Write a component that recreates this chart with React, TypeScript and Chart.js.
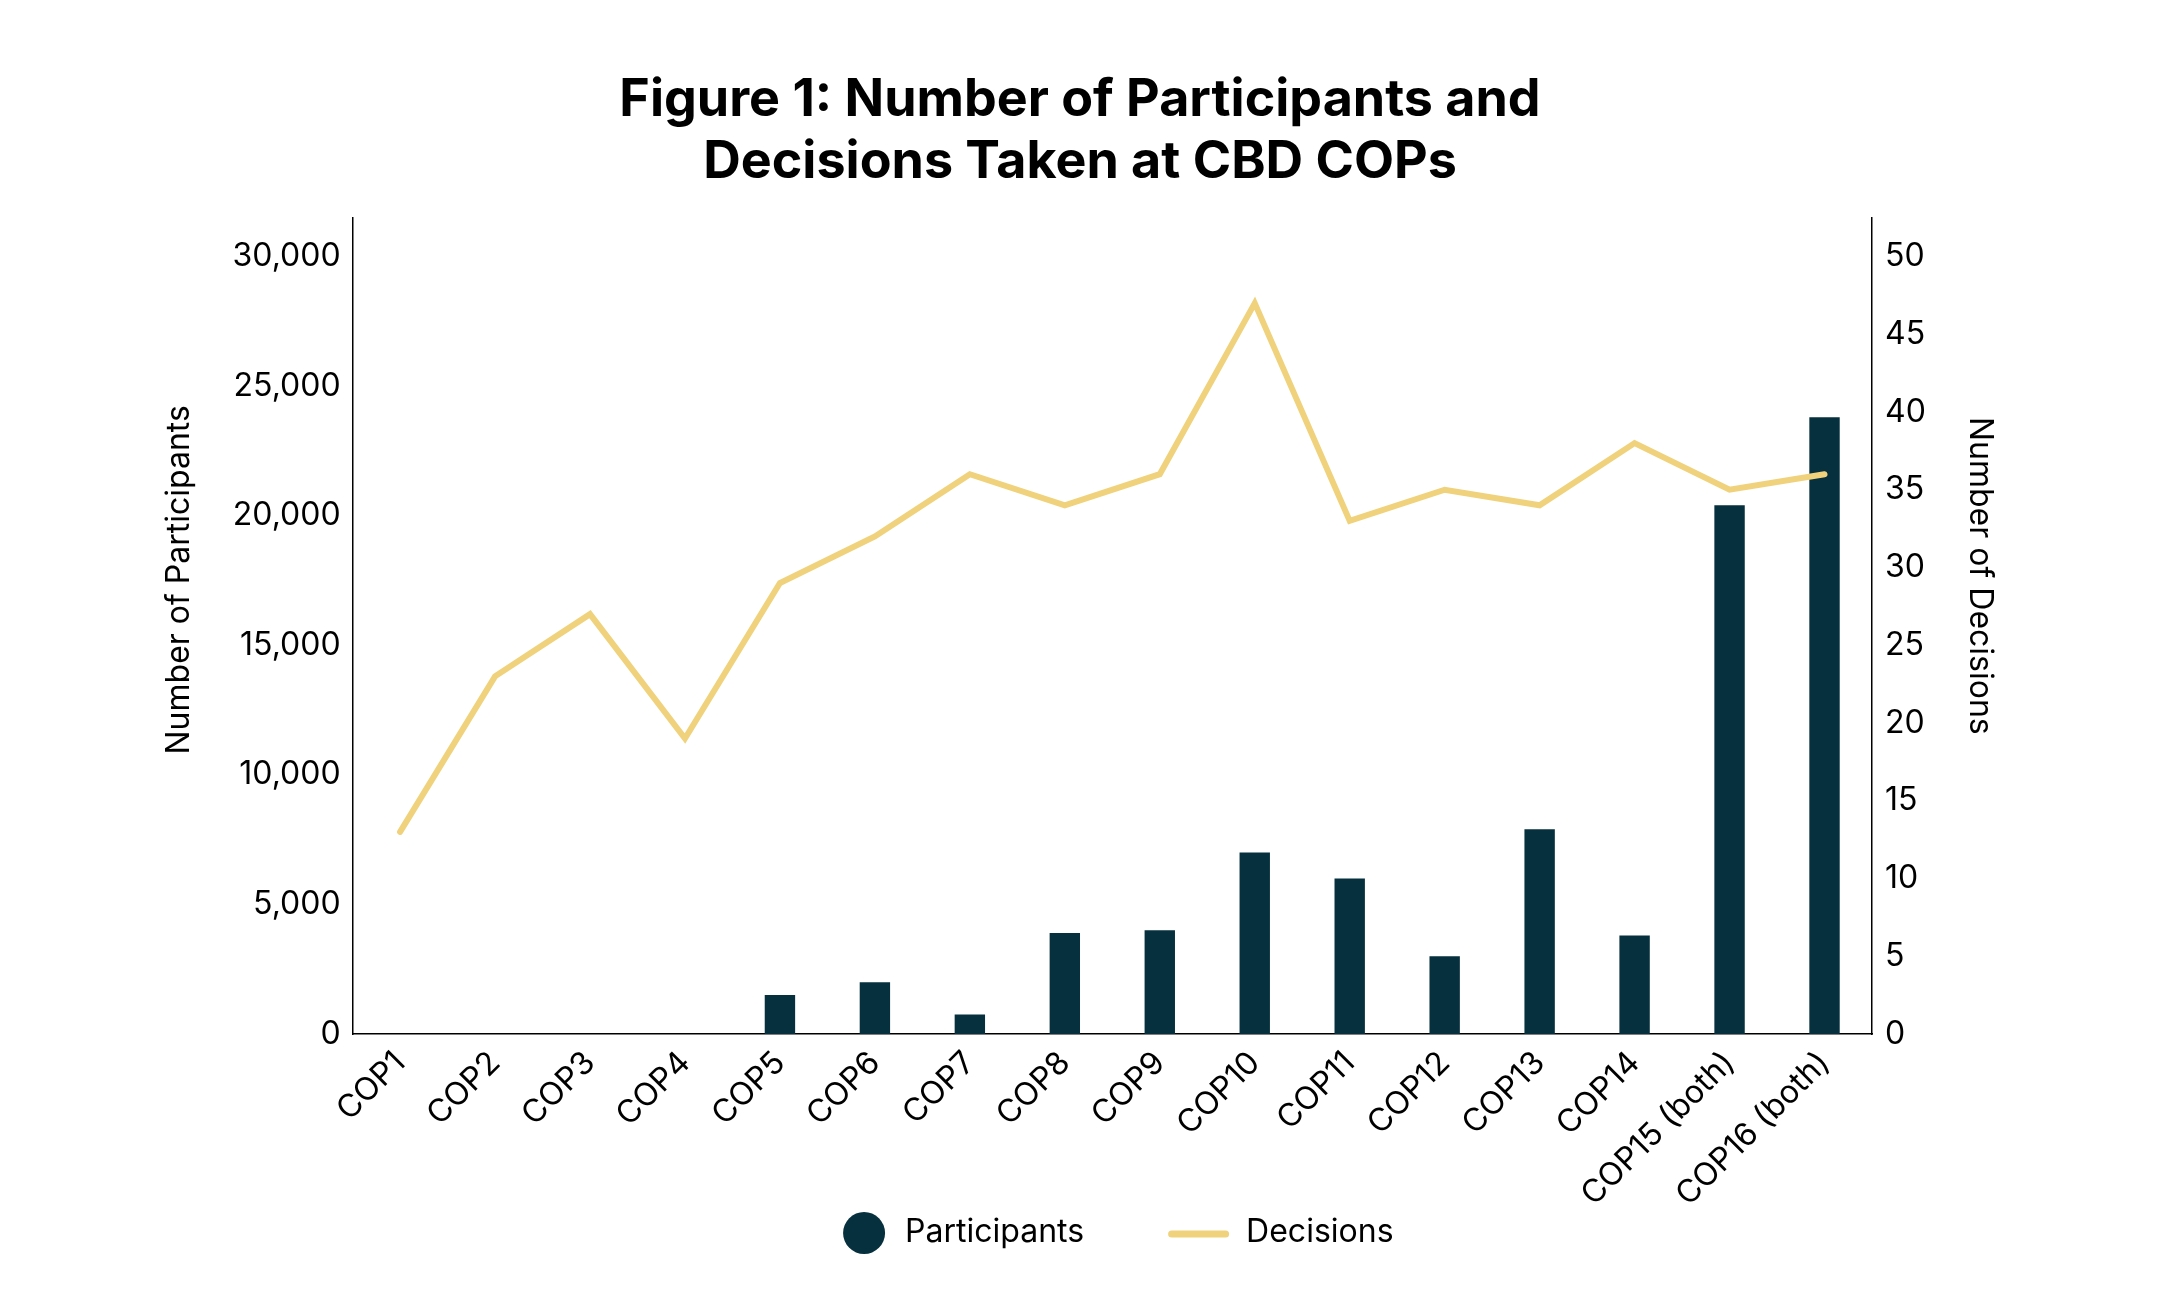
import { useEffect, useRef } from "react"
import { Chart, registerables } from "chart.js"

Chart.register(...registerables)

const copLabels = [
  "COP1", "COP2", "COP3", "COP4", "COP5", "COP6", "COP7", "COP8",
  "COP9", "COP10", "COP11", "COP12", "COP13", "COP14", "COP15 (both)", "COP16 (both)",
]
const participants = [null, null, null, null, 1500, 2000, 750, 3900, 4000, 7000, 6000, 3000, 7900, 3800, 20400, 23800]
const decisions = [13, 23, 27, 19, 29, 32, 36, 34, 36, 47, 33, 35, 34, 38, 35, 36]

const participantTicks = [0, 5000, 10000, 15000, 20000, 25000, 30000]
const decisionTicks = [0, 5, 10, 15, 20, 25, 30, 35, 40, 45, 50]

const titleLines = ["Figure 1: Number of Participants and", "Decisions Taken at CBD COPs"]
const leftAxisTitle = "Number of Participants"
const rightAxisTitle = "Number of Decisions"

const BAR_COLOR = "#06303d"
const LINE_COLOR = "#f0d27d"
const FONT = "Inter"

// axis titles sit a bit above the middle of the plot in the original
const axisTitles = {
  id: "axisTitles",
  afterDraw(chart: Chart) {
    const { ctx, chartArea } = chart
    const midY = (chartArea.top + chartArea.bottom) / 2
    ctx.save()
    ctx.font = `32px ${FONT}`
    ctx.fillStyle = "#000"
    ctx.textAlign = "center"
    ctx.textBaseline = "middle"

    ctx.save()
    ctx.translate(chartArea.left - 173, midY - 46)
    ctx.rotate(-Math.PI / 2)
    ctx.fillText(leftAxisTitle, 0, 0)
    ctx.restore()

    ctx.save()
    ctx.translate(chartArea.right + 108, midY - 50)
    ctx.rotate(Math.PI / 2)
    ctx.fillText(rightAxisTitle, 0, 0)
    ctx.restore()

    ctx.restore()
  },
}

// legend centred under the plot area: a dot for the bars, a stroke for the line
const bottomLegend = {
  id: "bottomLegend",
  afterDraw(chart: Chart) {
    const { ctx, chartArea } = chart
    const [lineSet, barSet] = chart.data.datasets
    ctx.save()
    ctx.font = `32px ${FONT}`
    const wBar = ctx.measureText(String(barSet.label)).width
    const wLine = ctx.measureText(String(lineSet.label)).width

    const dotR = 21
    const dotGap = 20
    const itemGap = 84
    const strokeLen = 61
    const strokeGap = 17
    const total = dotR * 2 + dotGap + wBar + itemGap + strokeLen + strokeGap + wLine
    const cx = (chartArea.left + chartArea.right) / 2 + 6
    let x = cx - total / 2
    const cy = chartArea.bottom + 199
    const baseY = chartArea.bottom + 208

    ctx.fillStyle = BAR_COLOR
    ctx.beginPath()
    ctx.arc(x + dotR, cy, dotR, 0, Math.PI * 2)
    ctx.fill()
    x += dotR * 2 + dotGap
    ctx.fillStyle = "#000"
    ctx.textBaseline = "alphabetic"
    ctx.fillText(String(barSet.label), x, baseY)
    x += wBar + itemGap

    ctx.strokeStyle = LINE_COLOR
    ctx.lineWidth = 7
    ctx.lineCap = "round"
    ctx.beginPath()
    ctx.moveTo(x + 3.5, cy + 1)
    ctx.lineTo(x + strokeLen - 3.5, cy + 1)
    ctx.stroke()
    x += strokeLen + strokeGap
    ctx.fillText(String(lineSet.label), x, baseY)
    ctx.restore()
  },
}

export default function App() {
  const chartRef = useRef<HTMLCanvasElement>(null)
  const chartInstance = useRef<Chart | null>(null)

  useEffect(() => {
    if (!chartRef.current) return
    if (chartInstance.current) chartInstance.current.destroy()

    const ctx = chartRef.current.getContext("2d")
    if (!ctx) return

    chartInstance.current = new Chart(ctx, {
      type: "bar",
      data: {
        labels: copLabels,
        datasets: [
          {
            type: "line",
            label: "Decisions",
            data: decisions,
            yAxisID: "y1",
            borderColor: LINE_COLOR,
            backgroundColor: LINE_COLOR,
            borderWidth: 6,
            borderJoinStyle: "miter",
            borderCapStyle: "round",
            pointRadius: 0,
            tension: 0,
            order: 0,
          },
          {
            type: "bar",
            label: "Participants",
            data: participants,
            yAxisID: "y",
            backgroundColor: BAR_COLOR,
            borderWidth: 0,
            barPercentage: 0.32,
            categoryPercentage: 1,
            order: 1,
          },
        ],
      },
      options: {
        responsive: true,
        maintainAspectRatio: false,
        animation: false,
        layout: { padding: 0 },
        scales: {
          x: {
            offset: true,
            grid: { display: false, drawTicks: false },
            border: { display: true, color: "#000", width: 1.5 },
            ticks: {
              color: "#000",
              font: { family: FONT, size: 32 },
              minRotation: 45,
              maxRotation: 45,
              autoSkip: false,
              padding: 10,
            },
            afterFit: (scale) => {
              scale.height = 252
            },
          },
          y: {
            position: "left",
            min: 0,
            max: 31500,
            grid: { display: false, drawTicks: false },
            border: { display: true, color: "#000", width: 1.5 },
            ticks: {
              color: "#000",
              font: { family: FONT, size: 32 },
              padding: 12,
              callback: (v) => Number(v).toLocaleString("en-US"),
            },
            afterBuildTicks: (scale) => {
              scale.ticks = participantTicks.map((value) => ({ value }))
            },
            afterFit: (scale) => {
              scale.width = 344.6
            },
          },
          y1: {
            position: "right",
            min: 0,
            max: 52.5,
            grid: { display: false, drawTicks: false },
            border: { display: true, color: "#000", width: 1.5 },
            ticks: {
              color: "#000",
              font: { family: FONT, size: 32 },
              padding: 13,
            },
            afterBuildTicks: (scale) => {
              scale.ticks = decisionTicks.map((value) => ({ value }))
            },
            afterFit: (scale) => {
              scale.width = 280
            },
          },
        },
        plugins: {
          legend: { display: false },
          tooltip: { enabled: false },
          title: {
            display: true,
            text: titleLines,
            color: "#000",
            font: { family: FONT, size: 52, weight: "bold", lineHeight: 1.18 },
            padding: { top: 62, bottom: 24.9 },
          },
        },
      },
      plugins: [axisTitles, bottomLegend],
    })

    return () => {
      if (chartInstance.current) {
        chartInstance.current.destroy()
        chartInstance.current = null
      }
    }
  }, [])

  return (
    <div style={{ position: "relative", width: 2144, height: 1278 }}>
      <canvas ref={chartRef} />
    </div>
  )
}
